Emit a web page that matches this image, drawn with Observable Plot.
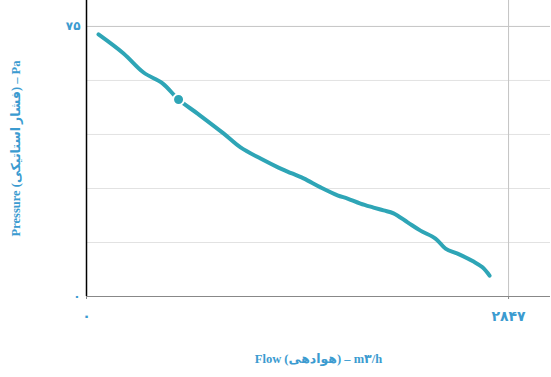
<!DOCTYPE html>
<html>
<head>
<meta charset="utf-8">
<script src="https://cdn.jsdelivr.net/npm/d3@7"></script>
<script src="https://cdn.jsdelivr.net/npm/@observablehq/plot@0.6"></script>
<style>
  html, body { margin: 0; padding: 0; background: #fff; }
  #chart { width: 551px; height: 377px; }
</style>
</head>
<body>
<div id="chart"></div>
<script>
const flow = [81, 250, 385, 513, 621, 749, 924, 1039, 1174, 1295, 1356, 1464, 1579, 1693, 1761, 1848, 1936, 2004, 2071, 2166, 2253, 2354, 2422, 2503, 2611, 2671, 2719];
const pressure = [72.8, 67.5, 62.2, 59.2, 54.7, 50.8, 45.3, 41.4, 38.3, 35.8, 34.7, 32.8, 30.3, 28.1, 27.2, 25.8, 24.7, 23.9, 23.1, 20.6, 18.3, 16.1, 13.3, 11.9, 9.7, 8.1, 5.8];
const markerFlow = [621];
const markerPressure = [54.7];
const xTicks = [0, 2847];
const xTickLabels = ["۰", "۲۸۴۷"];
const yTicks = [0, 75];
const yTickLabels = ["۰", "۷۵"];
const yGrid = [15, 30, 45, 60];
const xTitle = "Flow (هوادهی) – m۳/h";
const yTitle = "Pressure (فشار استاتیکی) – Pa";

const data = flow.map((f, i) => ({flow: f, pressure: pressure[i]}));
const marker = markerFlow.map((f, i) => ({flow: f, pressure: markerPressure[i]}));

const lineColor = "#2ea5b6";
const textColor = "#3b9bd0";
const font = "'Liberation Serif', 'DejaVu Serif', 'DejaVu Sans', serif";

const chart = Plot.plot({
  width: 551,
  height: 377,
  marginLeft: 86,
  marginRight: 1,
  marginTop: 0,
  marginBottom: 81,
  style: {fontFamily: font, background: "#fff"},
  x: {domain: [0, 3130]},
  y: {domain: [0, 82.2]},
  marks: [
    Plot.ruleY(yGrid, {stroke: "#e2e2e2", strokeWidth: 1}),
    Plot.ruleY([75], {stroke: "#c4c4c4", strokeWidth: 1}),
    Plot.ruleX([2847], {stroke: "#c4c4c4", strokeWidth: 1}),
    Plot.ruleY([0], {stroke: "#888", strokeWidth: 1}),
    Plot.ruleX([0], {stroke: "#000", strokeWidth: 1.5}),
    Plot.axisX({
      ticks: xTicks,
      tickFormat: (d) => xTickLabels[xTicks.indexOf(d)],
      tickSize: 3,
      tickPadding: 12,
      stroke: "#888",
      fill: textColor,
      fontSize: 14,
      fontWeight: "bold",
      label: null
    }),
    Plot.axisY({
      ticks: yTicks,
      tickFormat: (d) => yTickLabels[yTicks.indexOf(d)],
      tickSize: 0,
      tickPadding: 6,
      fill: textColor,
      fontSize: 12,
      fontWeight: "bold",
      label: null
    }),
    Plot.line(data, {x: "flow", y: "pressure", stroke: lineColor, strokeWidth: 4, curve: "catmull-rom", strokeLinejoin: "round", strokeLinecap: "round"}),
    Plot.dot(marker, {x: "flow", y: "pressure", r: 5.5, fill: lineColor, stroke: "#fff", strokeWidth: 2}),
    Plot.text([xTitle], {frameAnchor: "bottom", dy: 66, textAnchor: "middle", fill: textColor, fontSize: 12.5, fontWeight: "bold", fontFamily: font}),
    Plot.text([yTitle], {frameAnchor: "left", dx: -71, rotate: -90, textAnchor: "middle", lineAnchor: "middle", fill: textColor, fontSize: 12.5, fontWeight: "bold", fontFamily: font})
  ]
});
document.getElementById("chart").appendChild(chart);
</script>
</body>
</html>
